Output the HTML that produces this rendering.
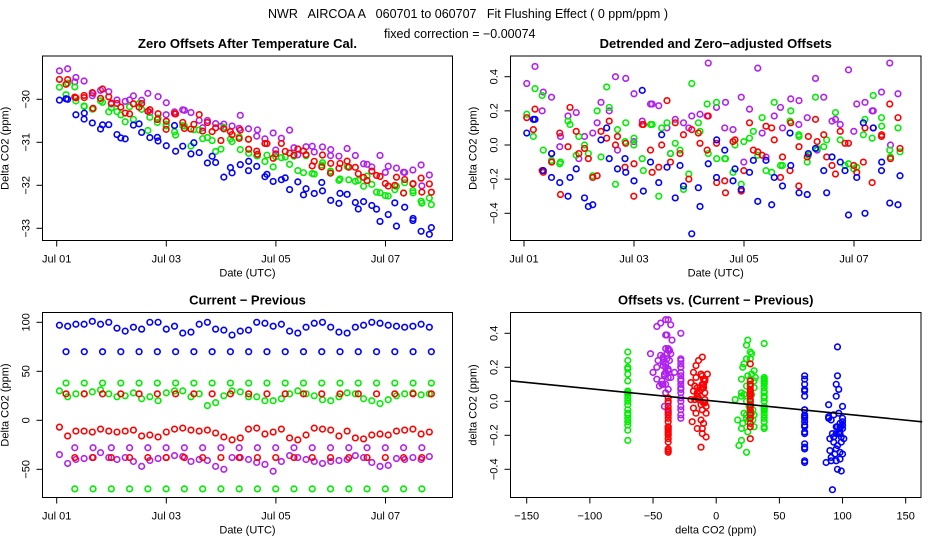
<!DOCTYPE html>
<html><head><meta charset="utf-8"><style>
html,body{margin:0;padding:0;background:#fff}
svg{display:block;font-family:"Liberation Sans",sans-serif}
</style></head><body>
<svg id="chart" width="936" height="540" viewBox="0 0 936 540">
<text x="468" y="18" text-anchor="middle" font-size="12.5" xml:space="preserve">NWR   AIRCOA A   060701 to 060707   Fit Flushing Effect ( 0 ppm/ppm )</text>
<text x="384" y="38" font-size="12.5">fixed correction = −0.00074</text>
</svg>
<script>
// ---- data: each row is a measurement group; delta = current - previous, resid = detrended offset ----
const blue97Delta=[97,96,98,98,101,98,100,94,91,95,93,100,100,93,96,89,90,98,100,93,92,87,91,92,100,99,96,98,91,89,95,99,100,95,90,89,95,97,100,99,97,96,95,96,98,95];
const blue97Resid=[0.07,0.15,-0.15,-0.19,-0.22,-0.30,-0.14,-0.31,-0.35,0.03,-0.08,-0.14,-0.16,-0.21,0.32,-0.10,-0.22,-0.13,-0.31,-0.24,-0.52,-0.36,-0.11,-0.19,-0.03,-0.21,-0.26,-0.16,-0.33,-0.09,-0.19,-0.24,-0.12,-0.28,-0.29,-0.02,-0.15,-0.07,-0.10,-0.41,-0.19,-0.40,0.10,-0.15,-0.34,-0.35];
const blue70Delta=[70,70,70,70,70,70,70,70,70,70,70,70,70,70,70,70,70,70,70,70,70];
const blue70Resid=[0.15,-0.05,-0.19,-0.36,0.10,-0.08,-0.27,0.06,-0.12,-0.25,0.03,-0.14,-0.09,-0.35,0.07,-0.05,-0.28,-0.15,0.13,-0.10,-0.18];
const green28Delta=[30,24,27,27,29,31,27,24,25,28,22,24,20,28,30,30,24,27,15,18,25,30,29,24,24,20,20,22,27,30,27,25,21,20,24,28,27,22,20,17,21,25,27,28,26,27];
const green28Resid=[0.18,0.33,-0.03,-0.09,-0.11,0.14,-0.06,0.00,-0.18,-0.07,0.22,0.09,0.13,0.04,-0.08,0.12,-0.30,0.13,0.01,-0.26,0.36,0.08,-0.05,0.25,-0.08,-0.16,-0.23,0.04,-0.06,-0.15,0.25,-0.12,0.20,0.05,-0.10,0.28,-0.01,-0.07,0.03,-0.11,-0.13,0.15,0.29,0.16,-0.03,0.10];
const green38Delta=[38,38,38,38,38,38,38,38,38,38,38,38,38,38,38,38,38,38,38,38,38];
const green38Resid=[0.05,-0.10,0.12,-0.05,0.34,0.02,-0.15,0.10,-0.03,0.13,-0.08,0.00,0.08,-0.16,0.14,-0.06,0.03,-0.12,0.06,0.11,-0.04];
const greenM70Delta=[-70,-70,-70,-70,-70,-70,-70,-70,-70,-70,-70,-70,-70,-70,-70,-70,-70,-70,-70,-70];
const greenM70Resid=[0.29,-0.10,0.05,0.20,-0.23,0.00,0.12,-0.05,-0.17,0.24,-0.08,0.02,0.16,-0.12,0.06,-0.02,0.19,-0.14,0.04,-0.07];
const redM13Delta=[-7,-16,-11,-11,-12,-9,-11,-12,-11,-10,-16,-15,-17,-12,-9,-8,-10,-11,-10,-13,-17,-20,-18,-9,-8,-14,-12,-9,-18,-20,-15,-8,-9,-10,-16,-11,-18,-19,-15,-14,-15,-11,-10,-9,-14,-12];
const redM13Resid=[0.16,0.21,-0.16,-0.05,0.07,-0.01,0.08,-0.02,-0.19,0.08,0.14,0.05,0.01,-0.11,0.12,-0.03,-0.13,0.26,0.13,0.06,0.09,0.01,0.17,0.01,-0.21,0.02,-0.27,0.13,-0.04,0.11,0.03,-0.07,0.13,-0.01,-0.07,0.15,0.06,-0.12,0.08,0.01,-0.16,0.10,0.10,0.05,0.24,0.16];
const red27Delta=[27,27,27,27,27,27,27,27,27,27,27,27,27,27,27,27,27,27,27,27,27];
const red27Resid=[0.09,-0.10,0.22,-0.08,0.04,-0.13,0.12,0.00,-0.05,0.07,-0.22,0.03,-0.03,0.10,-0.15,0.05,-0.07,0.01,-0.10,0.06,-0.02];
const redM38Delta=[-38,-38,-38,-38,-38,-38,-38,-38,-38,-38,-38,-38,-38,-38,-38,-38,-38,-38,-38,-38];
const redM38Resid=[-0.15,-0.29,-0.05,-0.18,0.00,-0.30,-0.16,-0.10,-0.20,-0.03,-0.28,-0.15,-0.06,-0.19,-0.24,0.02,-0.17,-0.12,-0.22,-0.08];
const purpleM40Delta=[-35,-44,-40,-39,-38,-33,-38,-40,-38,-42,-47,-41,-39,-38,-36,-37,-42,-40,-41,-47,-50,-38,-38,-40,-43,-45,-52,-42,-36,-38,-40,-42,-44,-42,-41,-40,-36,-38,-43,-47,-46,-39,-40,-38,-40,-37];
const purpleM40Resid=[0.36,0.46,0.31,0.28,-0.01,0.17,0.19,0.05,0.07,0.25,0.20,-0.03,0.39,0.30,0.14,0.24,0.23,0.10,0.15,0.13,0.17,0.18,0.48,0.22,0.10,0.09,0.28,0.21,0.45,-0.07,0.17,0.10,0.27,0.26,0.16,0.39,0.28,0.14,0.12,0.44,0.24,0.25,0.20,0.31,0.48,0.30];
const purpleM28Delta=[-28,-28,-28,-28,-28,-28,-28,-28,-28,-28,-28,-28,-28,-28,-28,-28,-28,-28,-28,-28];
const purpleM28Resid=[0.20,0.05,-0.08,0.13,0.40,0.02,0.24,-0.05,0.10,0.17,0.25,-0.10,0.07,0.22,0.12,-0.03,0.15,0.08,0.20,0.00];
// trend per series (value at Jul 01 00:00, slope ppm/day)
const trendIntercept={blue:-30.07,red:-29.68,green:-29.88,purple:-29.68};
const trendSlope={blue:-0.40,red:-0.36,green:-0.37,purple:-0.35};
const fixedCorrection=-0.00074;
const dateTicks=[1,3,5,7];
const dateTickLabels=["Jul 01","Jul 03","Jul 05","Jul 07"];
const p1Ticks=[-30,-31,-32,-33];
const p2Ticks=[0.4,0.2,0.0,-0.2,-0.4];
const p3Ticks=[100,50,0,-50];
const p4XTicks=[-150,-100,-50,0,50,100,150];

const COLORS={blue:"#0000ff",red:"#ff0000",green:"#00ee00",purple:"#b020f0"};
// rows: series, start day, step (days), delta array, resid array
const rows=[
 {s:"purple",t0:1.05,dt:0.15,d:purpleM40Delta,r:purpleM40Resid},
 {s:"purple",t0:1.33,dt:1/3,d:purpleM28Delta,r:purpleM28Resid},
 {s:"green",t0:1.05,dt:0.15,d:green28Delta,r:green28Resid},
 {s:"green",t0:1.17,dt:1/3,d:green38Delta,r:green38Resid},
 {s:"green",t0:1.33,dt:1/3,d:greenM70Delta,r:greenM70Resid},
 {s:"red",t0:1.05,dt:0.15,d:redM13Delta,r:redM13Resid},
 {s:"red",t0:1.17,dt:1/3,d:red27Delta,r:red27Resid},
 {s:"red",t0:1.33,dt:1/3,d:redM38Delta,r:redM38Resid},
 {s:"blue",t0:1.05,dt:0.15,d:blue97Delta,r:blue97Resid},
 {s:"blue",t0:1.17,dt:1/3,d:blue70Delta,r:blue70Resid}
];

const NS="http://www.w3.org/2000/svg";
const svg=document.getElementById("chart");
function el(tag,attrs,parent){const e=document.createElementNS(NS,tag);for(const k in attrs)e.setAttribute(k,attrs[k]);(parent||svg).appendChild(e);return e;}
function lin(d0,d1,r0,r1){return v=>r0+(v-d0)*(r1-r0)/(d1-d0);}

const panels={
 p1:{box:[42.5,56,452.5,240.5],x:lin(1,3,56.7,166.3),y:lin(-30,-31,99.3,142.3),title:"Zero Offsets After Temperature Cal.",yl:"Delta CO2 (ppm)",xl:"Date (UTC)",yt:p1Ticks,fmt:v=>String(v).replace("-","−")},
 p2:{box:[510.5,56,921,240.5],x:lin(1,3,524,634),y:lin(0,0.4,145,76.7),title:"Detrended and Zero−adjusted Offsets",yl:"Delta CO2 (ppm)",xl:"Date (UTC)",yt:p2Ticks,fmt:v=>v.toFixed(1).replace("-","−")},
 p3:{box:[42.5,312.5,452.5,497.5],x:lin(1,3,56.7,166.3),y:lin(0,100,420.3,322.3),title:"Current − Previous",yl:"Delta CO2 (ppm)",xl:"Date (UTC)",yt:p3Ticks,fmt:v=>String(v).replace("-","−")},
 p4:{box:[510.5,312.5,921,497.5],x:lin(-150,150,526.7,905.7),y:lin(0,0.4,401.3,333.3),title:"Offsets vs. (Current − Previous)",yl:"delta CO2 (ppm)",xl:"delta CO2 (ppm)",yt:p2Ticks,fmt:v=>v.toFixed(1).replace("-","−")}
};

function drawFrame(key){
 const p=panels[key],[x0,y0,x1,y1]=p.box;
 const g=el("g",{});
 
 
 const r=el("rect",{x:x0,y:y0,width:x1-x0,height:y1-y0,fill:"none",stroke:"#000","stroke-width":1},g);
 
 
 const t=el("text",{x:(x0+x1)/2,y:y0-8,"text-anchor":"middle","font-size":13,"font-weight":"bold"},g);
 t.textContent=p.title;
 
 
 // y ticks
 p.yt.forEach(v=>{const yy=p.y(v);
  el("line",{x1:x0,x2:x0-6,y1:yy,y2:yy,stroke:"#000"},g);
  const lt=el("text",{x:x0-13,y:yy,"text-anchor":"middle","font-size":11,transform:`rotate(-90 ${x0-13} ${yy})`},g);
  lt.textContent=p.fmt(v);
  
  
 });
 const yl=el("text",{x:x0-34,y:(y0+y1)/2,"text-anchor":"middle","font-size":11,transform:`rotate(-90 ${x0-34} ${(y0+y1)/2})`},g);
 yl.textContent=p.yl;
 
 
 // x ticks
 const xs=key==="p4"?p4XTicks:dateTicks;
 xs.forEach((v,i)=>{const xx=p.x(v);
  el("line",{x1:xx,x2:xx,y1:y1,y2:y1+6,stroke:"#000"},g);
  const lt=el("text",{x:xx,y:y1+22,"text-anchor":"middle","font-size":11},g);
  lt.textContent=key==="p4"?String(v).replace("-","−"):dateTickLabels[i];
  
  
 });
 const xl=el("text",{x:(x0+x1)/2,y:y1+36,"text-anchor":"middle","font-size":11},g);
 xl.textContent=p.xl;
 
 
}
Object.keys(panels).forEach(drawFrame);

function pt(key,xv,yv,color){
 const p=panels[key];
 const c=el("circle",{cx:p.x(xv),cy:p.y(yv),r:2.8,fill:"none",stroke:color,"stroke-width":1.6});
 
 
}
rows.forEach(row=>{
 const col=COLORS[row.s];
 row.d.forEach((dv,i)=>{
  const t=row.t0+row.dt*i;
  const rv=row.r[i];
  const off=trendIntercept[row.s]+trendSlope[row.s]*(t-1)+rv;
  pt("p1",t,off,col);
  pt("p2",t,rv,col);
  pt("p3",t,dv,col);
  pt("p4",dv,rv,col);
 });
});
// regression line in panel 4
(function(){
 const p=panels.p4,[x0,,x1]=p.box;
 const xa=-163,xb=163;
 const ln=el("line",{x1:p.x(xa),y1:p.y(fixedCorrection*xa),x2:p.x(xb),y2:p.y(fixedCorrection*xb),stroke:"#000","stroke-width":1.6});
 
 
})();
</script>
</body></html>
